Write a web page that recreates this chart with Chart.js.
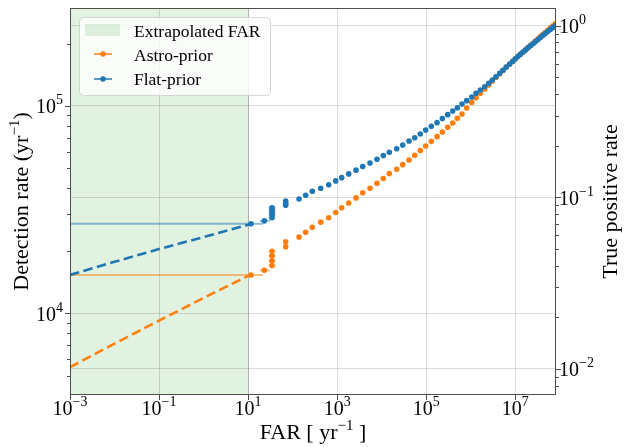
<!DOCTYPE html>
<html><head><meta charset="utf-8">
<script src="https://cdn.jsdelivr.net/npm/chart.js@4.4.0/dist/chart.umd.min.js"></script>
<style>html,body{margin:0;padding:0;background:#fff;}canvas{display:block;}</style>
</head><body>
<canvas id="c" width="624" height="447"></canvas>
<script>
const FONT = '"Liberation Serif", "Times New Roman", serif';

// ---------- data ----------
const extrapFar = [1e-3, 1e-2, 1e-1, 1, 10, 11.6];
const flatExtrapRate = [1.53e4, 1.77e4, 2.04e4, 2.33e4, 2.67e4, 2.70e4];
const astroExtrapRate = [5.49e3, 7.13e3, 9.21e3, 1.185e4, 1.514e4, 1.53e4];

const flatEarlyFar  = [11.6, 23.1, 34.4, 34.4, 34.4, 34.4, 34.4, 69.8, 69.8, 69.8];
const flatEarlyRate = [2.70e4, 2.79e4, 2.89e4, 2.99e4, 3.07e4, 3.15e4, 3.23e4, 3.32e4, 3.39e4, 3.48e4];
const flatEarlyFarLo = [1e-3, 18.5, 29.0, 29.0, 29.0, 29.0, 29.0, 69.8, 69.8, 69.8];
const flatEarlyFarHi = [21.6, 31.0, 40.8, 40.8, 40.8, 40.8, 40.8, 69.8, 69.8, 69.8];

const astroEarlyFar  = [11.6, 23.1, 34.4, 34.4, 34.4, 34.4, 69.8, 69.8];
const astroEarlyRate = [1.53e4, 1.61e4, 1.70e4, 1.79e4, 1.89e4, 1.99e4, 2.09e4, 2.21e4];
const astroEarlyFarLo = [1e-3, 18.5, 29.0, 29.0, 29.0, 29.0, 69.8, 69.8];
const astroEarlyFarHi = [21.6, 31.0, 40.8, 40.8, 40.8, 40.8, 69.8, 69.8];

const farGrid = [139, 196, 276, 427, 645, 927, 1264, 1815, 2648, 3741,
  5458, 7834, 1.086e4, 1.479e4, 2.17e4, 2.96e4, 4.10e4, 5.51e4, 7.36e4, 9.72e4,
  1.30e5, 1.75e5, 2.30e5, 3.03e5, 3.93e5, 4.99e5, 6.36e5, 8.11e5, 1.05e6, 1.31e6,
  1.64e6, 2.06e6, 2.53e6, 3.05e6, 3.69e6, 4.47e6, 5.30e6, 6.28e6, 7.48e6, 8.75e6,
  1.0e7, 1.15e7, 1.31e7, 1.49e7, 1.69e7, 1.93e7, 2.19e7, 2.50e7, 2.84e7, 3.24e7,
  3.68e7, 4.19e7, 4.76e7, 5.42e7, 6.17e7, 7.03e7, 8.0e7];
const flatRate = [3.56e4, 3.71e4, 3.88e4, 4.01e4, 4.17e4, 4.35e4, 4.51e4, 4.70e4, 4.90e4, 5.10e4,
  5.31e4, 5.53e4, 5.76e4, 5.98e4, 6.22e4, 6.48e4, 6.78e4, 7.03e4, 7.33e4, 7.66e4,
  7.98e4, 8.31e4, 8.69e4, 9.08e4, 9.46e4, 9.81e4, 1.022e5, 1.061e5, 1.105e5, 1.152e5,
  1.195e5, 1.239e5, 1.287e5, 1.335e5, 1.384e5, 1.438e5, 1.486e5, 1.542e5, 1.594e5, 1.643e5,
  1.691e5, 1.737e5, 1.778e5, 1.820e5, 1.863e5, 1.907e5, 1.952e5, 1.998e5, 2.045e5, 2.093e5,
  2.142e5, 2.193e5, 2.245e5, 2.295e5, 2.344e5, 2.394e5, 2.443e5];
const astroRate = [2.33e4, 2.46e4, 2.60e4, 2.75e4, 2.89e4, 3.06e4, 3.23e4, 3.40e4, 3.60e4, 3.81e4,
  4.01e4, 4.24e4, 4.47e4, 4.72e4, 4.95e4, 5.21e4, 5.49e4, 5.78e4, 6.09e4, 6.41e4,
  6.75e4, 7.11e4, 7.49e4, 7.89e4, 8.28e4, 8.72e4, 9.15e4, 9.78e4, 1.040e5, 1.097e5,
  1.152e5, 1.208e5, 1.263e5, 1.320e5, 1.375e5, 1.432e5, 1.486e5, 1.542e5, 1.594e5, 1.640e5,
  1.686e5, 1.733e5, 1.782e5, 1.822e5, 1.867e5, 1.913e5, 1.960e5, 2.009e5, 2.059e5, 2.110e5,
  2.162e5, 2.216e5, 2.270e5, 2.326e5, 2.381e5, 2.438e5, 2.500e5];

const extrapolatedFarLimit = [1e-3, 10];
const xTickExps = [-3, -1, 1, 3, 5, 7];
const yTickExps = [4, 5];
const y2TickExps = [-2, -1, 0];
const legendLabels = ['Extrapolated FAR', 'Astro-prior', 'Flat-prior'];
const xTitle = ['FAR [ yr', '\u22121', ' ]'];
const yTitle = ['Detection rate (yr', '\u22121', ')'];
const y2Title = 'True positive rate';

// ---------- style ----------
const BLUE = '#1f77b4', ORANGE = '#ff7f0e';
const BLUE_ERR = 'rgba(31,119,180,0.5)', ORANGE_ERR = 'rgba(255,127,14,0.5)';
const GREEN_FILL = 'rgba(44,160,44,0.14)';

const pts = (xs, ys) => xs.map((x, i) => ({x: x, y: ys[i]}));

function minorTicks(lo, hi) {
  const out = [];
  for (let e = Math.floor(Math.log10(lo)); e <= Math.ceil(Math.log10(hi)); e++) {
    for (let m = 1; m < 10; m++) {
      const v = m * Math.pow(10, e);
      if (v >= lo * 1.0001 && v <= hi / 1.0001) out.push({v: v, major: m === 1});
    }
  }
  return out;
}

function drawRich(ctx, parts, x, y, align) {
  let total = 0;
  parts.forEach(p => { ctx.font = p.size + 'px ' + FONT; p.w = ctx.measureText(p.t).width; total += p.w; });
  let cx = align === 'center' ? x - total / 2 : (align === 'right' ? x - total : x);
  ctx.textAlign = 'left'; ctx.textBaseline = 'alphabetic';
  parts.forEach(p => { ctx.font = p.size + 'px ' + FONT; ctx.fillText(p.t, cx, y - (p.dy || 0)); cx += p.w; });
}
function powParts(e) {
  return [{t: '10', size: 20}, {t: (e < 0 ? '\u2212' + (-e) : '' + e), size: 14, dy: 9}];
}

const decor = {
  id: 'decor',
  beforeDraw(chart) {
    const {ctx, chartArea: a, scales} = chart;
    const x0 = scales.x.getPixelForValue(extrapolatedFarLimit[0]);
    const x1 = scales.x.getPixelForValue(extrapolatedFarLimit[1]);
    ctx.save();
    ctx.fillStyle = GREEN_FILL;
    ctx.fillRect(x0, a.top, x1 - x0, a.bottom - a.top);
    ctx.strokeStyle = 'rgba(60,110,60,0.28)';
    ctx.lineWidth = 1;
    ctx.beginPath(); ctx.moveTo(Math.round(x1) + 0.5, a.top); ctx.lineTo(Math.round(x1) + 0.5, a.bottom); ctx.stroke();
    ctx.restore();
  },
  beforeDatasetsDraw(chart) {
    const {ctx, chartArea: a, scales} = chart;
    ctx.save();
    ctx.beginPath(); ctx.rect(a.left, a.top, a.right - a.left, a.bottom - a.top); ctx.clip();
    ctx.lineWidth = 2;
    const bars = (lo, hi, ys, col) => {
      ctx.strokeStyle = col;
      for (let i = 0; i < ys.length; i++) {
        if (hi[i] <= lo[i]) continue;
        const y = scales.y.getPixelForValue(ys[i]);
        ctx.beginPath();
        ctx.moveTo(scales.x.getPixelForValue(lo[i]), y);
        ctx.lineTo(scales.x.getPixelForValue(hi[i]), y);
        ctx.stroke();
      }
    };
    bars(astroEarlyFarLo, astroEarlyFarHi, astroEarlyRate, ORANGE_ERR);
    bars(flatEarlyFarLo, flatEarlyFarHi, flatEarlyRate, BLUE_ERR);
    ctx.restore();
  },
  afterDraw(chart) {
    const {ctx, chartArea: a, scales} = chart;
    ctx.save();
    // frame
    ctx.strokeStyle = '#4d4d4d'; ctx.lineWidth = 1;
    ctx.strokeRect(a.left + 0.5, a.top + 0.5, a.right - a.left - 1, a.bottom - a.top - 1);
    // tick marks
    ctx.beginPath();
    xTickExps.forEach(e => {
      const px = Math.round(scales.x.getPixelForValue(Math.pow(10, e))) + 0.5;
      ctx.moveTo(px, a.bottom); ctx.lineTo(px, a.bottom + 5);
    });
    minorTicks(scales.y.min, scales.y.max).forEach(t => {
      const py = Math.round(scales.y.getPixelForValue(t.v)) + 0.5;
      ctx.moveTo(a.left, py); ctx.lineTo(a.left - (t.major ? 5 : 3), py);
    });
    minorTicks(scales.y2.min, scales.y2.max).forEach(t => {
      const py = Math.round(scales.y2.getPixelForValue(t.v)) + 0.5;
      ctx.moveTo(a.right, py); ctx.lineTo(a.right + (t.major ? 5 : 3), py);
    });
    ctx.stroke();
    // tick labels
    ctx.fillStyle = '#000';
    xTickExps.forEach(e => drawRich(ctx, powParts(e), scales.x.getPixelForValue(Math.pow(10, e)), a.bottom + 20, 'center'));
    yTickExps.forEach(e => drawRich(ctx, powParts(e), a.left - 7, scales.y.getPixelForValue(Math.pow(10, e)) + 7.5, 'right'));
    y2TickExps.forEach(e => drawRich(ctx, powParts(e), a.right + 3, scales.y2.getPixelForValue(Math.pow(10, e)) + 7.5, 'left'));
    // axis titles
    const midY = (a.top + a.bottom) / 2;
    drawRich(ctx, [{t: xTitle[0], size: 22}, {t: xTitle[1], size: 15, dy: 9}, {t: xTitle[2], size: 22}], (a.left + a.right) / 2, 439, 'center');
    ctx.save(); ctx.translate(28, midY); ctx.rotate(-Math.PI / 2);
    drawRich(ctx, [{t: yTitle[0], size: 22}, {t: yTitle[1], size: 15, dy: 9}, {t: yTitle[2], size: 22}], 0, 0, 'center');
    ctx.restore();
    ctx.save(); ctx.translate(617, midY); ctx.rotate(-Math.PI / 2);
    drawRich(ctx, [{t: y2Title, size: 22}], 0, 0, 'center');
    ctx.restore();
    // legend
    const lx = 79.5, ly = 17.5, lw = 191, lh = 78, r = 4;
    ctx.beginPath();
    ctx.moveTo(lx + r, ly); ctx.lineTo(lx + lw - r, ly); ctx.arcTo(lx + lw, ly, lx + lw, ly + r, r);
    ctx.lineTo(lx + lw, ly + lh - r); ctx.arcTo(lx + lw, ly + lh, lx + lw - r, ly + lh, r);
    ctx.lineTo(lx + r, ly + lh); ctx.arcTo(lx, ly + lh, lx, ly + lh - r, r);
    ctx.lineTo(lx, ly + r); ctx.arcTo(lx, ly, lx + r, ly, r); ctx.closePath();
    ctx.fillStyle = 'rgba(255,255,255,0.8)'; ctx.fill();
    ctx.strokeStyle = 'rgba(204,204,204,0.8)'; ctx.lineWidth = 1; ctx.stroke();
    ctx.fillStyle = GREEN_FILL; ctx.fillRect(85, 24, 35, 12);
    [[ORANGE, 54], [BLUE, 79]].forEach(([c, y]) => {
      ctx.strokeStyle = c; ctx.lineWidth = 1.5;
      ctx.beginPath(); ctx.moveTo(94, y); ctx.lineTo(112, y); ctx.stroke();
      ctx.fillStyle = c; ctx.beginPath(); ctx.arc(103, y, 2.8, 0, Math.PI * 2); ctx.fill();
    });
    ctx.fillStyle = '#000'; ctx.font = '17.5px ' + FONT; ctx.textAlign = 'left'; ctx.textBaseline = 'alphabetic';
    ctx.fillText(legendLabels[0], 134, 36.5);
    ctx.fillText(legendLabels[1], 134, 60.5);
    ctx.fillText(legendLabels[2], 134, 84.5);
    ctx.restore();
  }
};

const gridColor = 'rgba(0,0,0,0.14)';
new Chart(document.getElementById('c'), {
  type: 'scatter',
  data: {
    datasets: [
      {label: 'Flat-prior', data: pts(flatEarlyFar.concat(farGrid), flatEarlyRate.concat(flatRate)),
        showLine: false, pointRadius: 2.8, pointBorderWidth: 0, pointBackgroundColor: BLUE, backgroundColor: BLUE, order: 0, yAxisID: 'y'},
      {label: 'Astro-prior', data: pts(astroEarlyFar.concat(farGrid), astroEarlyRate.concat(astroRate)),
        showLine: false, pointRadius: 2.8, pointBorderWidth: 0, pointBackgroundColor: ORANGE, backgroundColor: ORANGE, order: 1, yAxisID: 'y'},
      {label: 'flat-extrap', data: pts(extrapFar, flatExtrapRate), showLine: true, borderColor: BLUE, borderWidth: 2.6,
        borderDash: [9.5, 4.5], pointRadius: 0, tension: 0, order: 2, yAxisID: 'y'},
      {label: 'astro-extrap', data: pts(extrapFar, astroExtrapRate), showLine: true, borderColor: ORANGE, borderWidth: 2.6,
        borderDash: [9.5, 4.5], pointRadius: 0, tension: 0, order: 3, yAxisID: 'y'}
    ]
  },
  options: {
    responsive: false, animation: false, devicePixelRatio: 1,
    layout: {padding: {top: 8, left: 0, right: 0, bottom: 0}},
    plugins: {legend: {display: false}, tooltip: {enabled: false}},
    scales: {
      x: {type: 'logarithmic', position: 'bottom', min: 1e-3, max: 8.2e7,
        afterBuildTicks: s => { s.ticks = xTickExps.map(e => ({value: Math.pow(10, e)})); },
        afterFit: s => { s.height = 52; },
        ticks: {display: false}, border: {display: false},
        grid: {color: gridColor, lineWidth: 1, drawTicks: false}},
      y: {type: 'logarithmic', position: 'left', min: 4.03e3, max: 2.97e5,
        afterBuildTicks: s => { s.ticks = yTickExps.map(e => ({value: Math.pow(10, e)})); },
        afterFit: s => { s.width = 70; },
        ticks: {display: false}, border: {display: false},
        grid: {color: gridColor, lineWidth: 1, drawTicks: false}},
      y2: {type: 'logarithmic', position: 'right', min: 0.00705, max: 1.27,
        afterBuildTicks: s => { s.ticks = y2TickExps.map(e => ({value: Math.pow(10, e)})); },
        afterFit: s => { s.width = 68; },
        ticks: {display: false}, border: {display: false},
        grid: {color: gridColor, lineWidth: 1, drawTicks: false}}
    }
  },
  plugins: [decor]
});
</script>
</body></html>
